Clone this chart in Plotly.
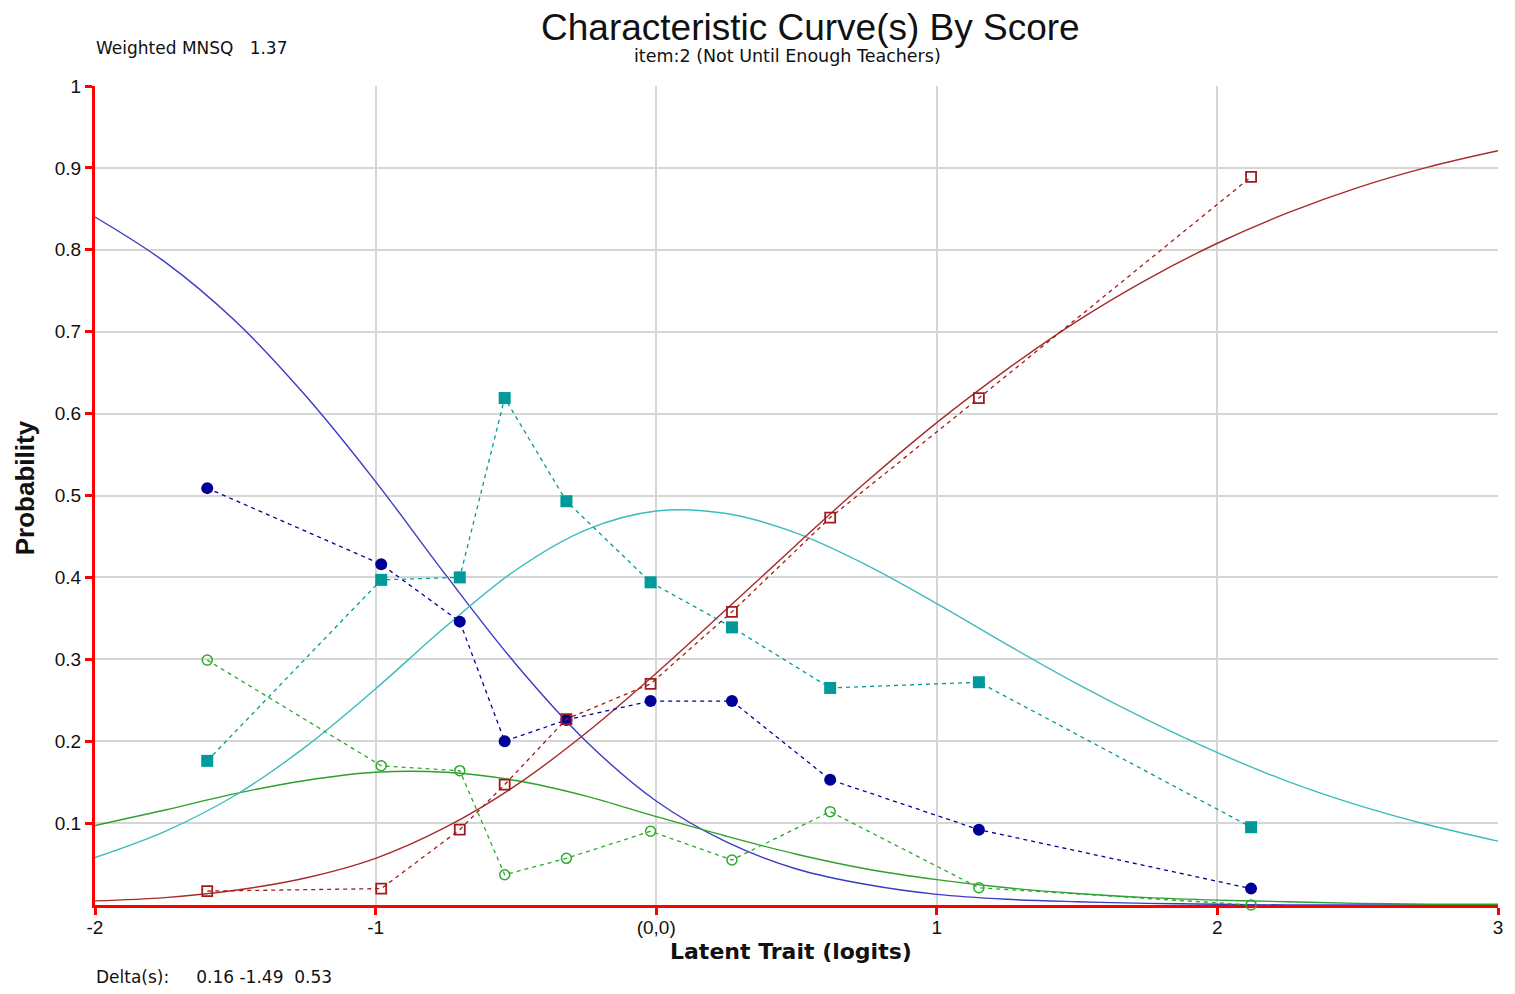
import plotly.graph_objects as go

theta = [-2.0, -1.75, -1.5, -1.25, -1.0, -0.75, -0.5, -0.25, 0.0, 0.25, 0.5,
         0.75, 1.0, 1.25, 1.5, 1.75, 2.0, 2.25, 2.5, 2.75, 3.0]
model_0 = [0.840, 0.785, 0.713, 0.622, 0.517, 0.403, 0.294, 0.200, 0.127, 0.077, 0.044,
           0.025, 0.013, 0.007, 0.004, 0.002, 0.001, 0.000, 0.000, 0.000, 0.000]
model_1 = [0.097, 0.116, 0.136, 0.152, 0.162, 0.162, 0.152, 0.133, 0.108, 0.084, 0.062,
           0.044, 0.031, 0.021, 0.014, 0.009, 0.006, 0.004, 0.002, 0.001, 0.001]
model_2 = [0.058, 0.090, 0.134, 0.193, 0.264, 0.340, 0.409, 0.458, 0.481, 0.478, 0.454,
           0.415, 0.368, 0.318, 0.270, 0.226, 0.186, 0.151, 0.122, 0.098, 0.078]
model_3 = [0.005, 0.009, 0.018, 0.033, 0.057, 0.095, 0.146, 0.210, 0.283, 0.361, 0.440,
           0.517, 0.589, 0.654, 0.713, 0.764, 0.808, 0.845, 0.876, 0.901, 0.921]

# observed proportions per ability group
groups = [-1.60, -0.98, -0.70, -0.54, -0.32, -0.02, 0.27, 0.62, 1.15, 2.12]
obs_0 = [0.509, 0.416, 0.346, 0.200, 0.226, 0.249, 0.249, 0.153, 0.092, 0.020]
obs_1 = [0.299, 0.170, 0.164, 0.037, 0.057, 0.090, 0.055, 0.114, 0.021, 0.000]
obs_2 = [0.176, 0.397, 0.400, 0.619, 0.493, 0.394, 0.339, 0.265, 0.272, 0.095]
obs_3 = [0.017, 0.020, 0.092, 0.147, 0.227, 0.270, 0.358, 0.473, 0.619, 0.889]

x_ticks = [-2, -1, 0, 1, 2, 3]
x_labels = ['-2', '-1', '(0,0)', '1', '2', '3']
y_ticks = [0.1, 0.2, 0.3, 0.4, 0.5, 0.6, 0.7, 0.8, 0.9, 1.0]
y_labels = ['0.1', '0.2', '0.3', '0.4', '0.5', '0.6', '0.7', '0.8', '0.9', '1']

title = 'Characteristic Curve(s) By Score'
subtitle = 'item:2 (Not Until Enough Teachers)'
fit_text = 'Weighted MNSQ&nbsp;&nbsp;&nbsp;1.37'
delta_text = 'Delta(s):&nbsp;&nbsp;&nbsp;&nbsp;&nbsp;0.16 -1.49&nbsp;&nbsp;0.53'

FONT = 'Liberation Sans, Arial, sans-serif'
WIDE = 'DejaVu Sans, Verdana, sans-serif'
NARROW = 'Liberation Sans Narrow, Arial Narrow, Liberation Sans, sans-serif'

# plot area in page pixels (the page body adds an 8px margin)
PX0, PX1, PY0, PY1 = 95, 1503, 86, 905


def px(x):
    return (x - PX0) / (PX1 - PX0)


def py(y):
    return (PY1 - y) / (PY1 - PY0)


fig = go.Figure()

model_styles = [(model_0, '#3b3bc4'), (model_1, '#2ca02c'),
                (model_2, '#3bbcbc'), (model_3, '#a82a2a')]
for ys, col in model_styles:
    fig.add_trace(go.Scatter(x=theta, y=ys, mode='lines', line_shape='spline',
                             line=dict(color=col, width=1.4), cliponaxis=False))

obs_styles = [
    (obs_1, '#2aaa2a', dict(symbol='circle-open', size=10, line=dict(width=1.5))),
    (obs_0, '#000099', dict(symbol='circle', size=12)),
    (obs_2, '#009a9a', dict(symbol='square', size=12)),
    (obs_3, '#a01c1c', dict(symbol='square-open', size=10, line=dict(width=1.8))),
]
for ys, col, mk in obs_styles:
    fig.add_trace(go.Scatter(x=groups, y=ys, mode='lines+markers',
                             line=dict(color=col, width=1.3, dash='4px,4px'),
                             marker=dict(color=col, **mk), cliponaxis=False))

axis_style = dict(showline=True, linecolor='#ff0000', linewidth=3, zeroline=False,
                  ticks='outside', ticklen=7, tickwidth=3, tickcolor='#ff0000',
                  showgrid=True, gridcolor='#d6d6d6', gridwidth=2,
                  tickfont=dict(family=NARROW, size=19, color='#111'),
                  ticklabeloverflow='allow', layer='below traces')
fig.update_xaxes(range=[-2, 3], tickvals=x_ticks, ticktext=x_labels,
                 ticklabelstandoff=-4, **axis_style)
fig.update_yaxes(range=[0, 1], tickvals=y_ticks, ticktext=y_labels, **axis_style)

fig.update_layout(
    width=1499, height=978,
    margin=dict(l=PX0 - 8, r=1507 - PX1, t=PY0 - 8, b=986 - PY1),
    plot_bgcolor='white', paper_bgcolor='white',
    showlegend=False,
    font=dict(family=FONT, color='#111'),
)


def label(text, x, y, size, family=FONT, anchor='center', angle=0):
    fig.add_annotation(text=text, xref='paper', yref='paper', x=px(x), y=py(y),
                       xanchor=anchor, yanchor='middle', textangle=angle,
                       showarrow=False, borderpad=0,
                       font=dict(size=size, family=family, color='#111'))


label(title, 813, 27, 37)
label(subtitle, 790, 56, 17.5, family=WIDE)
label('<b>Latent Trait (logits)</b>', 793, 951, 22, family=WIDE)
label('<b>Probability</b>', 25, 488, 26, angle=-90)
label(fit_text, 95, 48, 17, family=WIDE, anchor='left')
label(delta_text, 95, 977, 17, family=WIDE, anchor='left')

fig.write_html("out.html")
